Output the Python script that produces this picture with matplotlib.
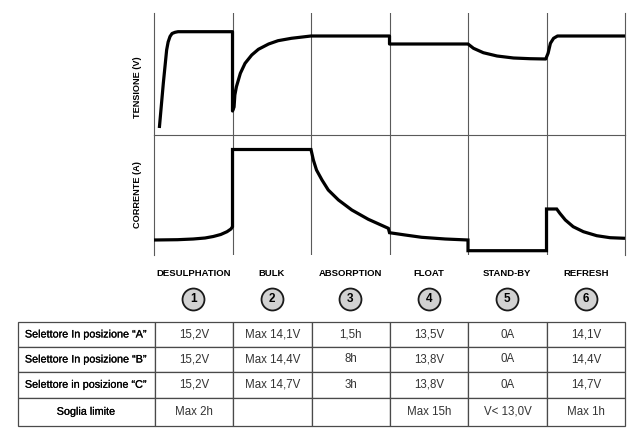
import matplotlib
matplotlib.use("Agg")
import matplotlib.pyplot as plt
import matplotlib.patheffects as pe

plt.rcParams['font.family'] = ['Liberation Sans', 'DejaVu Sans']

# ---------------- data ----------------
phases = ["DESULPHATION", "BULK", "ABSORPTION", "FLOAT", "STAND-BY", "REFRESH"]
phase_numbers = ["1", "2", "3", "4", "5", "6"]

# voltage curve (x in phase units, y in relative units)
volt_x = [0.068, 0.119, 0.161, 0.18, 0.204, 0.23, 0.268, 0.306, 1.0,
          1.0, 1.02, 1.03, 1.05, 1.10, 1.16, 1.245, 1.33, 1.46, 1.58, 1.75, 2.0,
          3.0, 3.0, 4.0,
          4.07, 4.195, 4.37, 4.58, 4.79, 4.99,
          5.02, 5.05, 5.09, 5.14, 6.0]
volt_y = [7, 52, 85, 93, 98.5, 101.5, 102.7, 103.3, 103.3,
          24, 28, 40, 48.3, 61.7, 71.7, 80, 85.7, 91, 94.3, 96.7, 99,
          99, 91, 91,
          86.7, 82.3, 79, 77, 76.3, 76,
          81.7, 91.7, 96.7, 99, 99]

# current curve
curr_x = [0.0, 0.3, 0.5, 0.65, 0.755, 0.85, 0.93, 0.98, 1.0,
          1.0, 2.0,
          2.03, 2.07, 2.14, 2.22, 2.35, 2.52, 2.73, 2.985,
          3.0, 3.2, 3.41, 3.71, 4.0,
          4.0, 5.0,
          5.0, 5.13, 5.17, 5.24, 5.34, 5.47, 5.64, 5.81, 6.0]
curr_y = [15, 15.3, 16, 17, 18.5, 20.5, 23.3, 26, 28.3,
          105.5, 105.5,
          95, 85, 75, 65, 55, 45, 35.7, 26.7,
          22.3, 20, 17.7, 16, 15,
          4.3, 4.3,
          46, 46, 41.7, 35, 28.3, 23.3, 19.3, 17.3, 16.7]

row_labels = ["Selettore In posizione \u201cA\u201d",
              "Selettore In posizione \u201cB\u201d",
              "Selettore in posizione \u201cC\u201d",
              "Soglia limite"]
sel_A = ["15,2V", "Max 14,1V", "1,5h", "13,5V", "0A", "14,1V"]
sel_B = ["15,2V", "Max 14,4V", "8h", "13,8V", "0A", "14,4V"]
sel_C = ["15,2V", "Max 14,7V", "3h", "13,8V", "0A", "14,7V"]
limits = ["Max 2h", "", "", "Max 15h", "V< 13,0V", "Max 1h"]

# ---------------- layout ----------------
W, H = 640, 438
fig = plt.figure(figsize=(W / 100, H / 100), dpi=100)
fig.patch.set_facecolor("white")


def ax_px(x0, y0, x1, y1):
    return fig.add_axes([x0 / W, 1 - y1 / H, (x1 - x0) / W, (y1 - y0) / H])


grid_c = "#5a5a5a"
axV = ax_px(154, 13, 625, 135)
axI = ax_px(154, 135, 625, 255)
for ax, ylim in ((axV, (0, 122)), (axI, (0, 120))):
    ax.set_xlim(0, 6)
    ax.set_ylim(*ylim)
    ax.set_xticks([])
    ax.set_yticks([])
    ax.patch.set_alpha(0)
    for x in range(1, 6):
        ax.axvline(x, color=grid_c, lw=0.8, zorder=1)
    for s in ("left", "right"):
        ax.spines[s].set_color(grid_c)
        ax.spines[s].set_linewidth(0.8)
    ax.spines["top"].set_visible(False)
axV.spines["bottom"].set_color(grid_c)
axV.spines["bottom"].set_linewidth(0.8)
axI.spines["bottom"].set_visible(False)

axV.plot(volt_x, volt_y, color="black", lw=2.3, clip_on=False,
         solid_joinstyle="round", solid_capstyle="butt", zorder=3)
axI.plot(curr_x, curr_y, color="black", lw=2.3, clip_on=False,
         solid_joinstyle="miter", solid_capstyle="butt", zorder=3)

bold_fx = [pe.withStroke(linewidth=0.15, foreground="black")]
fig.text(137 / W, 1 - 87.5 / H, "TENSIONE (V)", rotation=90, ha="center",
         va="center", fontsize=6.6, fontweight="bold")
fig.text(137 / W, 1 - 195 / H, "CORRENTE (A)", rotation=90, ha="center",
         va="center", fontsize=6.6, fontweight="bold")

# phase labels and numbered circles
axL = ax_px(154, 260, 625, 315)
axL.set_xlim(0, 6)
axL.set_ylim(315, 260)
axL.axis("off")
centers = [i + 0.5 for i in range(len(phases))]
for cx, name, num in zip(centers, phases, phase_numbers):
    axL.text(cx, 273.5, name, ha="center", va="center", fontsize=6.8,
             fontweight="bold")
    axL.text(cx, 298.5, num, ha="center", va="center", fontsize=8.5,
             fontweight="bold", zorder=4)
axL.scatter(centers, [298.5] * len(centers), s=250, facecolor="#d2d2d2",
            edgecolor="#1a1a1a", linewidths=1.3, zorder=3, clip_on=False)

# table
axT = ax_px(18, 322, 625, 426)
axT.axis("off")
cell_text = [[lab] + vals for lab, vals in zip(row_labels, [sel_A, sel_B, sel_C, limits])]
tbl = axT.table(cellText=cell_text, bbox=[0, 0, 1, 1],
                colWidths=[137] + [78.5] * 6, cellLoc="center")
tbl.auto_set_font_size(False)
row_h = [25, 25, 25.5, 28.5]
for (r, c), cell in tbl.get_celld().items():
    cell.set_height(row_h[r])
    cell.set_edgecolor("#4a4a4a")
    cell.set_linewidth(0.9)
    t = cell.get_text()
    if c == 0:
        t.set_fontsize(7.8)
        t.set_color("black")
        t.set_path_effects(bold_fx)
    else:
        t.set_fontsize(8.3)
        t.set_color("#333333")

fig.savefig("out.png", dpi=100, facecolor="white")
